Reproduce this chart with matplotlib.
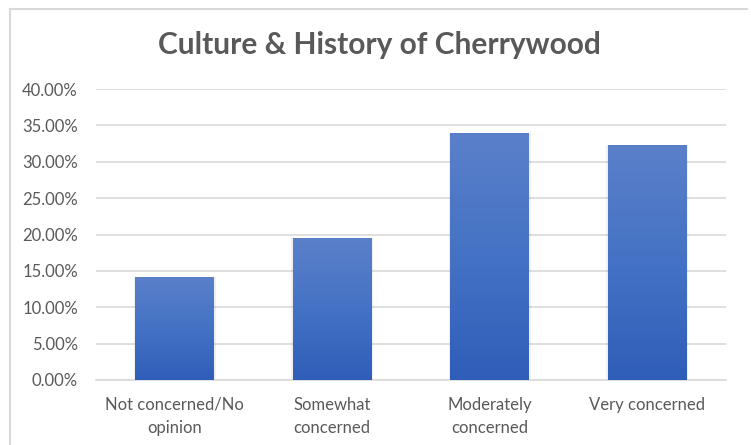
import matplotlib
matplotlib.use("Agg")
import matplotlib.pyplot as plt
import numpy as np
from matplotlib.colors import LinearSegmentedColormap
from matplotlib.lines import Line2D
from matplotlib.ticker import FuncFormatter

categories = ["Not concerned/No\nopinion", "Somewhat\nconcerned", "Moderately\nconcerned", "Very concerned"]
values = [14.2, 19.5, 34.0, 32.3]
yticks = [0, 5, 10, 15, 20, 25, 30, 35, 40]

plt.rcParams['font.family'] = ['Lato', 'DejaVu Sans']
grey = '#595959'
grid = '#d9d9d9'

fig = plt.figure(figsize=(7.51, 4.45), dpi=100)
ax = fig.add_axes([96 / 751, 1 - 380 / 445, 630 / 751, 291 / 445])

x = np.arange(len(categories))
bars = ax.bar(x, values, width=0.5, color='none', zorder=3)

# vertical gradient fill, light at top, darker at bottom
cmap = LinearSegmentedColormap.from_list('grad', ['#2f5eb9', '#4472c4', '#5b80ca'])
grad = np.linspace(0, 1, 256).reshape(-1, 1)
for b in bars:
    x0, w, h = b.get_x(), b.get_width(), b.get_height()
    # faint shadow around bar
    ax.bar(x0 + w / 2, h, width=w * 1.04, color='#000000', alpha=0.06, zorder=2)
    im = ax.imshow(grad, extent=[x0, x0 + w, 0, h], origin='lower', cmap=cmap,
                   aspect='auto', zorder=3)
    im.set_clip_path(b)

ax.set_xlim(-0.5, len(categories) - 0.5)
ax.set_ylim(0, 40)
ax.set_yticks(yticks)
ax.yaxis.set_major_formatter(FuncFormatter(lambda v, p: f"{v:.2f}%"))
ax.set_xticks(x)
ax.set_xticklabels(categories, linespacing=1.6)
ax.grid(axis='y', color=grid, linewidth=1.2, zorder=0)
for s in ['top', 'right', 'left']:
    ax.spines[s].set_visible(False)
ax.spines['bottom'].set_color(grid)
ax.spines['bottom'].set_linewidth(1.2)
ax.tick_params(axis='both', length=0, colors=grey, labelsize=12)
ax.tick_params(axis='x', pad=12)
ax.tick_params(axis='y', pad=13)

fig.text(379 / 751, 1 - 45 / 445, "Culture & History of Cherrywood", ha='center', va='center',
         fontsize=21.5, fontweight='bold', color=grey)

# chart frame (left and top edges visible in the crop)
fig.add_artist(Line2D([10 / 751, 10 / 751], [0, 1 - 9 / 445], color=grid, linewidth=1.5))
fig.add_artist(Line2D([10 / 751, 747 / 751], [1 - 9 / 445, 1 - 9 / 445], color=grid, linewidth=1.5))

fig.savefig("out.png", dpi=100)
